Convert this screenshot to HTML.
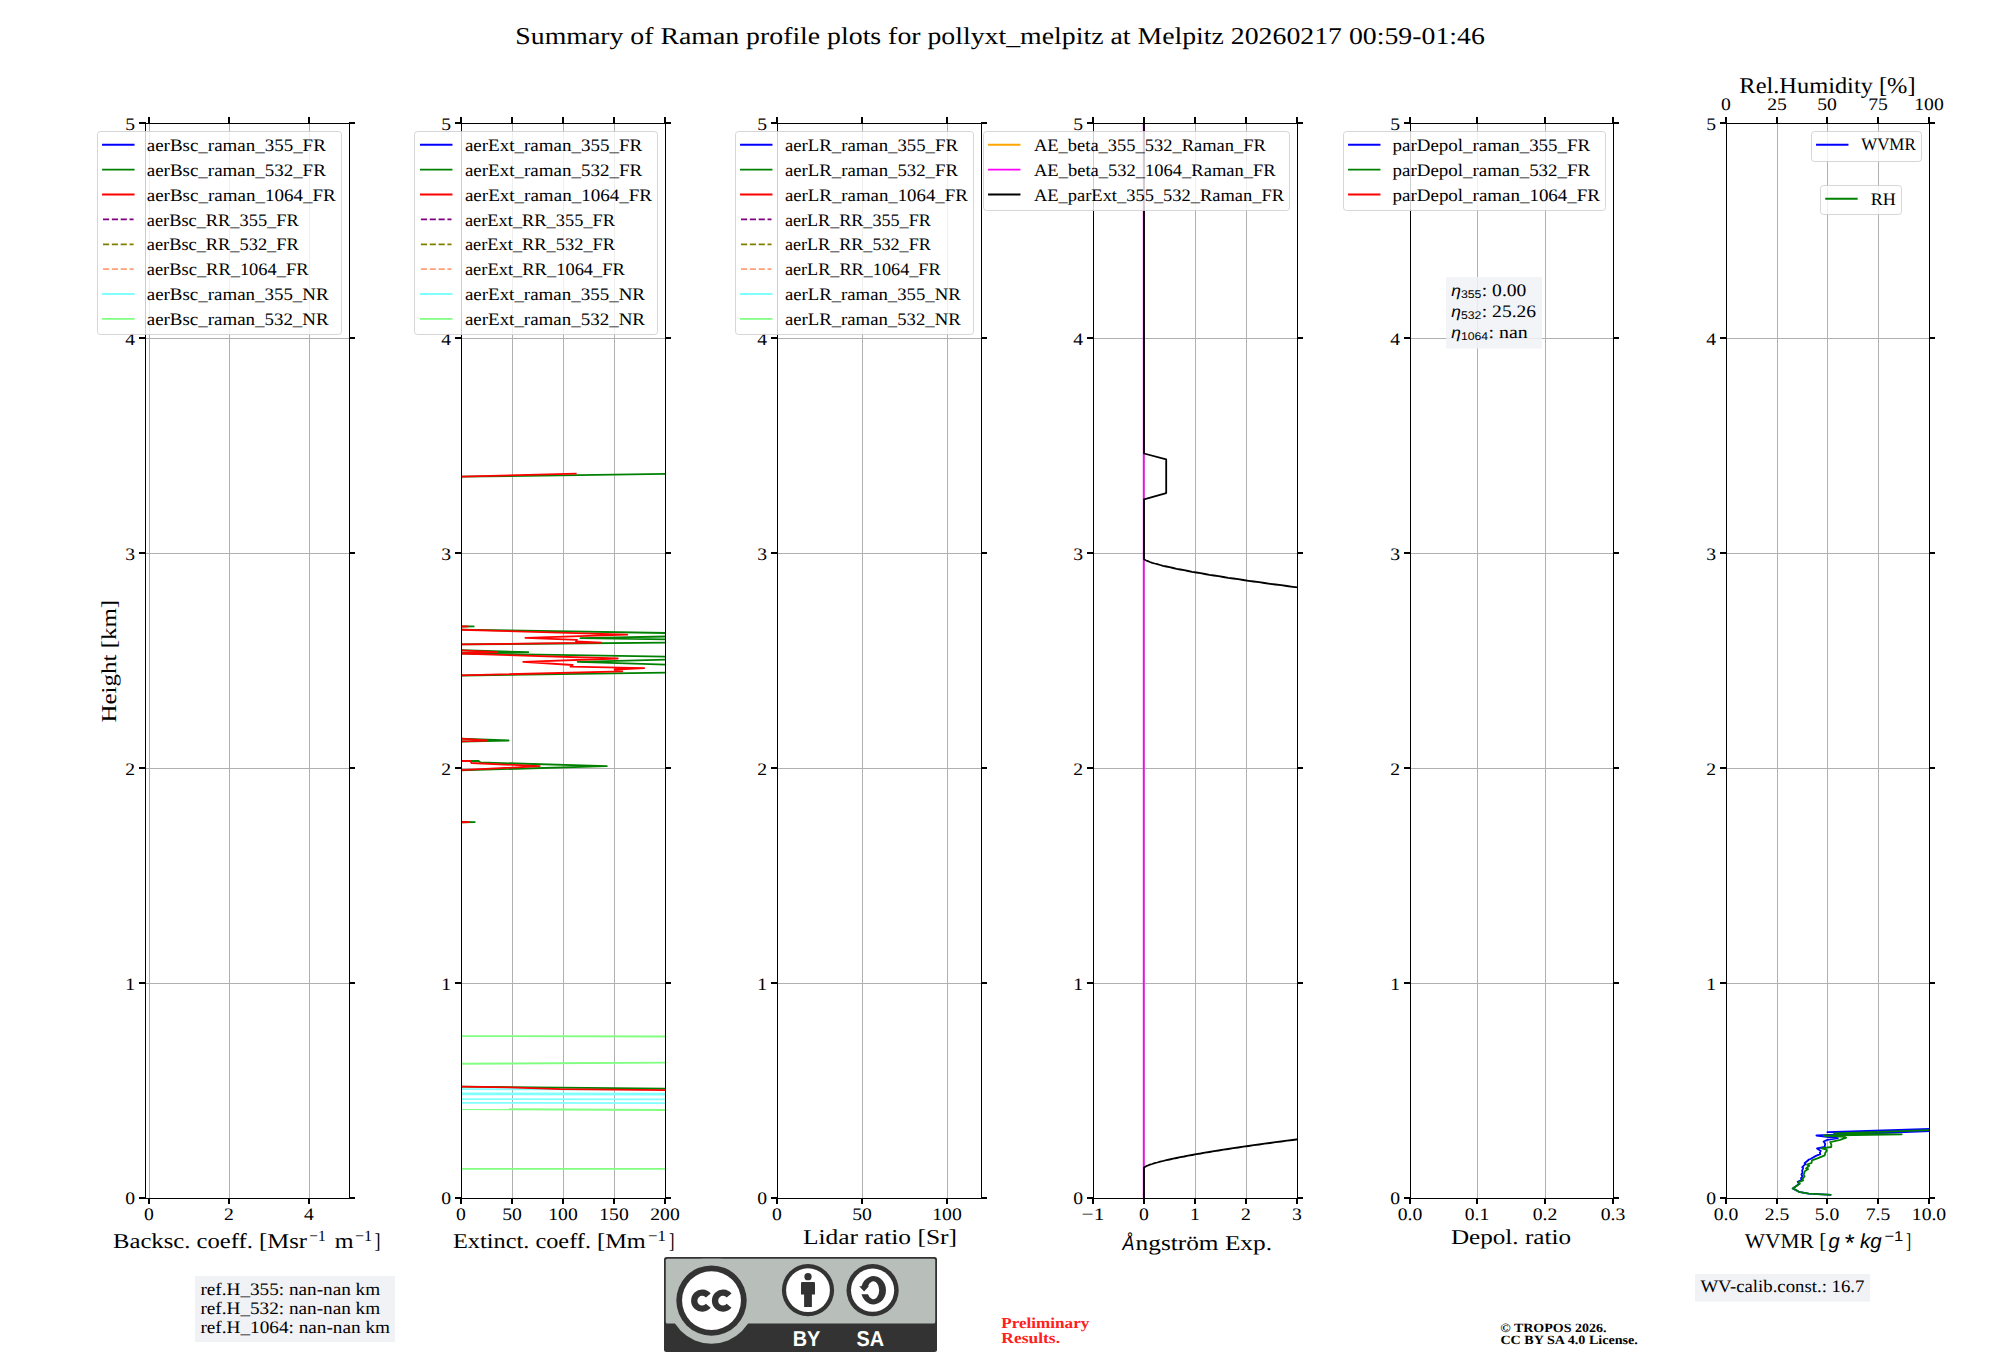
<!DOCTYPE html>
<html><head><meta charset="utf-8"><title>Summary of Raman profile plots</title>
<style>
html,body{margin:0;padding:0;background:#fff;}
svg{display:block;}

</style></head><body>
<svg width="2000" height="1360" viewBox="0 0 2000 1360" font-family="Liberation Serif" text-rendering="geometricPrecision">
<rect width="2000" height="1360" fill="#fff"/>
<defs>
<clipPath id="c0"><rect x="145" y="123" width="205" height="1076"/></clipPath>
<clipPath id="c1"><rect x="461" y="123" width="205" height="1076"/></clipPath>
<clipPath id="c2"><rect x="777" y="123" width="205" height="1076"/></clipPath>
<clipPath id="c3"><rect x="1093" y="123" width="205" height="1076"/></clipPath>
<clipPath id="c4"><rect x="1410" y="123" width="204" height="1076"/></clipPath>
<clipPath id="c5"><rect x="1726" y="123" width="204" height="1076"/></clipPath>
</defs>
<text x="515.30" y="44.20" font-size="24.22" textLength="969.51" lengthAdjust="spacingAndGlyphs">Summary of Raman profile plots for pollyxt_melpitz at Melpitz 20260217 00:59-01:46</text>
<path d="M149.5 123V1199M229.5 123V1199M309.5 123V1199M145 983.5H350M145 768.5H350M145 553.5H350M145 338.5H350M512.5 123V1199M563.5 123V1199M614.5 123V1199M461 983.5H666M461 768.5H666M461 553.5H666M461 338.5H666M862.5 123V1199M947.5 123V1199M777 983.5H982M777 768.5H982M777 553.5H982M777 338.5H982M1144.5 123V1199M1195.5 123V1199M1246.5 123V1199M1093 983.5H1298M1093 768.5H1298M1093 553.5H1298M1093 338.5H1298M1477.5 123V1199M1545.5 123V1199M1410 983.5H1614M1410 768.5H1614M1410 553.5H1614M1410 338.5H1614M1777.5 123V1199M1827.5 123V1199M1878.5 123V1199M1726 983.5H1930M1726 768.5H1930M1726 553.5H1930M1726 338.5H1930" stroke="#b0b0b0" stroke-width="1" fill="none"/>
<path d="M455.0 1036.1 L671.0 1036.5" stroke="#80ff80" stroke-width="1.8" fill="none" stroke-linejoin="round" stroke-linecap="butt" clip-path="url(#c1)"/>
<path d="M455.0 1063.8 L671.0 1062.6" stroke="#80ff80" stroke-width="1.8" fill="none" stroke-linejoin="round" stroke-linecap="butt" clip-path="url(#c1)"/>
<path d="M455.0 1109.0 L671.0 1110.0" stroke="#80ff80" stroke-width="1.8" fill="none" stroke-linejoin="round" stroke-linecap="butt" clip-path="url(#c1)"/>
<path d="M455.0 1168.8 L671.0 1168.8" stroke="#80ff80" stroke-width="1.8" fill="none" stroke-linejoin="round" stroke-linecap="butt" clip-path="url(#c1)"/>
<path d="M455.0 1089.2 L671.0 1089.4" stroke="#80ffff" stroke-width="1.8" fill="none" stroke-linejoin="round" stroke-linecap="butt" clip-path="url(#c1)"/>
<path d="M455.0 1093.4 L671.0 1093.6" stroke="#80ffff" stroke-width="1.8" fill="none" stroke-linejoin="round" stroke-linecap="butt" clip-path="url(#c1)"/>
<path d="M455.0 1094.4 L671.0 1094.6" stroke="#80ffff" stroke-width="1.8" fill="none" stroke-linejoin="round" stroke-linecap="butt" clip-path="url(#c1)"/>
<path d="M455.0 1099.1 L671.0 1099.3" stroke="#80ffff" stroke-width="1.8" fill="none" stroke-linejoin="round" stroke-linecap="butt" clip-path="url(#c1)"/>
<path d="M455.0 1102.9 L671.0 1103.1" stroke="#80ffff" stroke-width="1.8" fill="none" stroke-linejoin="round" stroke-linecap="butt" clip-path="url(#c1)"/>
<path d="M667.0 473.9 L455.0 476.8" stroke="#008000" stroke-width="1.8" fill="none" stroke-linejoin="round" stroke-linecap="butt" clip-path="url(#c1)"/>
<path d="M455.0 626.3 L473.7 626.4 L455.0 626.7" stroke="#008000" stroke-width="1.8" fill="none" stroke-linejoin="round" stroke-linecap="butt" clip-path="url(#c1)"/>
<path d="M455.0 629.6 L667.0 633.0" stroke="#008000" stroke-width="1.8" fill="none" stroke-linejoin="round" stroke-linecap="butt" clip-path="url(#c1)"/>
<path d="M667.0 636.5 L580.4 638.2 L667.0 639.3" stroke="#008000" stroke-width="1.8" fill="none" stroke-linejoin="round" stroke-linecap="butt" clip-path="url(#c1)"/>
<path d="M667.0 642.6 L455.0 644.5" stroke="#008000" stroke-width="1.8" fill="none" stroke-linejoin="round" stroke-linecap="butt" clip-path="url(#c1)"/>
<path d="M455.0 650.1 L528.2 652.2 L455.0 653.3" stroke="#008000" stroke-width="1.8" fill="none" stroke-linejoin="round" stroke-linecap="butt" clip-path="url(#c1)"/>
<path d="M455.0 653.4 L667.0 656.6" stroke="#008000" stroke-width="1.8" fill="none" stroke-linejoin="round" stroke-linecap="butt" clip-path="url(#c1)"/>
<path d="M667.0 659.6 L577.7 661.8 L667.0 664.7" stroke="#008000" stroke-width="1.8" fill="none" stroke-linejoin="round" stroke-linecap="butt" clip-path="url(#c1)"/>
<path d="M667.0 672.7 L455.0 675.6" stroke="#008000" stroke-width="1.8" fill="none" stroke-linejoin="round" stroke-linecap="butt" clip-path="url(#c1)"/>
<path d="M455.0 738.3 L508.6 740.5 L455.0 741.6" stroke="#008000" stroke-width="1.8" fill="none" stroke-linejoin="round" stroke-linecap="butt" clip-path="url(#c1)"/>
<path d="M455.0 761.0 L478.6 761.0 L480.5 762.4 L606.8 766.2 L455.0 770.5" stroke="#008000" stroke-width="1.8" fill="none" stroke-linejoin="round" stroke-linecap="butt" clip-path="url(#c1)"/>
<path d="M455.0 821.8 L474.8 822.1 L455.0 822.4" stroke="#008000" stroke-width="1.8" fill="none" stroke-linejoin="round" stroke-linecap="butt" clip-path="url(#c1)"/>
<path d="M455.0 1086.6 L667.0 1088.7" stroke="#008000" stroke-width="1.8" fill="none" stroke-linejoin="round" stroke-linecap="butt" clip-path="url(#c1)"/>
<path d="M455.0 476.8 L576.6 473.7" stroke="#ff0000" stroke-width="1.8" fill="none" stroke-linejoin="round" stroke-linecap="butt" clip-path="url(#c1)"/>
<path d="M455.0 626.3 L467.7 626.4 L455.0 626.7" stroke="#ff0000" stroke-width="1.8" fill="none" stroke-linejoin="round" stroke-linecap="butt" clip-path="url(#c1)"/>
<path d="M455.0 629.6 L627.2 634.6 L525.4 637.8 L577.1 639.8 L576.0 641.5 L601.3 642.6 L455.0 644.5" stroke="#ff0000" stroke-width="1.8" fill="none" stroke-linejoin="round" stroke-linecap="butt" clip-path="url(#c1)"/>
<path d="M455.0 650.1 L497.4 652.2 L455.0 653.3" stroke="#ff0000" stroke-width="1.8" fill="none" stroke-linejoin="round" stroke-linecap="butt" clip-path="url(#c1)"/>
<path d="M455.0 653.4 L617.8 658.5 L523.2 661.8 L572.7 665.0 L570.5 666.7 L644.2 668.1 L614.5 669.5 L622.2 671.3 L455.0 675.6" stroke="#ff0000" stroke-width="1.8" fill="none" stroke-linejoin="round" stroke-linecap="butt" clip-path="url(#c1)"/>
<path d="M455.0 738.3 L486.9 740.5 L455.0 741.6" stroke="#ff0000" stroke-width="1.8" fill="none" stroke-linejoin="round" stroke-linecap="butt" clip-path="url(#c1)"/>
<path d="M455.0 761.0 L470.4 761.0 L471.5 763.0 L539.7 766.2 L455.0 770.5" stroke="#ff0000" stroke-width="1.8" fill="none" stroke-linejoin="round" stroke-linecap="butt" clip-path="url(#c1)"/>
<path d="M455.0 821.8 L468.8 822.1 L455.0 822.4" stroke="#ff0000" stroke-width="1.8" fill="none" stroke-linejoin="round" stroke-linecap="butt" clip-path="url(#c1)"/>
<path d="M455.0 1086.6 L510.0 1087.4 L560.0 1089.2 L667.0 1090.2" stroke="#ff0000" stroke-width="1.8" fill="none" stroke-linejoin="round" stroke-linecap="butt" clip-path="url(#c1)"/>
<path d="M1143.7 121.0 L1143.7 1200.0" stroke="#ff00ff" stroke-width="1.8" fill="none" stroke-linejoin="round" stroke-linecap="butt" clip-path="url(#c3)"/>
<path d="M1144.0 121.0 L1144.0 453.5 L1166.2 459.4 L1166.2 493.1 L1144.0 499.4 L1144.0 559.0 L1144.8 559.8 L1146.2 560.5 L1147.9 561.2 L1149.9 562.0 L1152.2 562.8 L1154.6 563.5 L1157.3 564.2 L1160.1 565.0 L1163.1 565.8 L1166.3 566.5 L1169.6 567.2 L1173.1 568.0 L1176.6 568.8 L1180.3 569.5 L1184.2 570.2 L1188.1 571.0 L1192.1 571.8 L1196.3 572.5 L1200.6 573.2 L1204.9 574.0 L1209.4 574.8 L1214.0 575.5 L1218.6 576.2 L1223.4 577.0 L1228.2 577.8 L1233.2 578.5 L1238.2 579.2 L1243.3 580.0 L1248.5 580.8 L1253.7 581.5 L1259.1 582.2 L1264.5 583.0 L1270.0 583.8 L1275.5 584.5 L1281.2 585.2 L1286.9 586.0 L1292.7 586.8 L1298.6 587.5 L1304.5 588.2 L1310.5 589.0" stroke="#000000" stroke-width="1.8" fill="none" stroke-linejoin="round" stroke-linecap="butt" clip-path="url(#c3)"/>
<path d="M1310.5 1137.7 L1304.5 1138.5 L1298.6 1139.2 L1292.7 1140.0 L1286.9 1140.7 L1281.2 1141.5 L1275.5 1142.2 L1270.0 1143.0 L1264.5 1143.7 L1259.1 1144.5 L1253.7 1145.2 L1248.5 1146.0 L1243.3 1146.7 L1238.2 1147.5 L1233.2 1148.2 L1228.2 1149.0 L1223.4 1149.7 L1218.6 1150.5 L1214.0 1151.2 L1209.4 1152.0 L1204.9 1152.7 L1200.6 1153.5 L1196.3 1154.2 L1192.1 1155.0 L1188.1 1155.7 L1184.2 1156.5 L1180.3 1157.2 L1176.6 1158.0 L1173.1 1158.7 L1169.6 1159.5 L1166.3 1160.2 L1163.1 1161.0 L1160.1 1161.7 L1157.3 1162.5 L1154.6 1163.2 L1152.2 1164.0 L1149.9 1164.7 L1147.9 1165.5 L1146.2 1166.2 L1144.8 1167.0 L1144.0 1167.7 L1144.0 1200.0" stroke="#000000" stroke-width="1.8" fill="none" stroke-linejoin="round" stroke-linecap="butt" clip-path="url(#c3)"/>
<path d="M1831.3 1194.9 L1808.7 1193.6 L1798.8 1191.8 L1796.9 1190.6 L1792.7 1188.4 L1797.0 1185.6 L1799.0 1183.4 L1797.7 1181.8 L1801.5 1180.1 L1801.0 1178.2 L1802.6 1176.5 L1801.4 1174.5 L1802.6 1172.6 L1802.1 1170.8 L1803.2 1168.0 L1802.2 1167.2 L1805.4 1164.1 L1804.6 1163.2 L1808.7 1159.7 L1810.5 1159.0 L1815.9 1155.9 L1820.3 1154.2 L1819.8 1152.6 L1820.8 1150.9 L1817.0 1148.4 L1824.7 1147.0 L1825.2 1143.7 L1823.6 1141.5 L1827.4 1139.9 L1837.9 1138.2 L1826.9 1136.9 L1816.4 1135.5 L1935.0 1131.0 L1827.4 1132.2 L1935.0 1128.8" stroke="#0000ff" stroke-width="1.8" fill="none" stroke-linejoin="round" stroke-linecap="butt" clip-path="url(#c5)"/>
<path d="M1831.3 1194.9 L1808.7 1193.6 L1798.8 1191.8 L1796.9 1190.6 L1792.7 1188.4 L1799.9 1183.7 L1798.8 1182.1 L1803.2 1180.4 L1802.6 1179.0 L1804.6 1176.3 L1803.6 1174.6 L1804.3 1173.0 L1804.8 1171.3 L1808.2 1169.1 L1806.0 1168.5 L1809.3 1165.8 L1807.0 1164.7 L1811.5 1163.0 L1812.0 1160.3 L1818.1 1158.1 L1824.7 1155.3 L1825.2 1153.1 L1826.9 1150.4 L1825.8 1149.3 L1821.4 1148.4 L1831.3 1147.0 L1831.3 1144.3 L1830.2 1142.1 L1840.1 1139.9 L1846.2 1137.7 L1844.5 1136.9 L1823.6 1135.5 L1901.7 1134.3 L1834.0 1133.3 L1935.0 1130.0" stroke="#008000" stroke-width="1.8" fill="none" stroke-linejoin="round" stroke-linecap="butt" clip-path="url(#c5)"/>
<path d="M145.5 123V1199M349.5 123V1199M145 123.5H350M145 1198.5H350M461.5 123V1199M665.5 123V1199M461 123.5H666M461 1198.5H666M777.5 123V1199M981.5 123V1199M777 123.5H982M777 1198.5H982M1093.5 123V1199M1297.5 123V1199M1093 123.5H1298M1093 1198.5H1298M1410.5 123V1199M1613.5 123V1199M1410 123.5H1614M1410 1198.5H1614M1726.5 123V1199M1929.5 123V1199M1726 123.5H1930M1726 1198.5H1930" stroke="#000" stroke-width="1" fill="none"/>
<path d="M148 1198h2v6h-2zM148 117h2v7h-2zM228 1198h2v6h-2zM228 117h2v7h-2zM308 1198h2v6h-2zM308 117h2v7h-2zM139 1197h7v2h-7zM349 1197h6v2h-6zM139 982h7v2h-7zM349 982h6v2h-6zM139 767h7v2h-7zM349 767h6v2h-6zM139 552h7v2h-7zM349 552h6v2h-6zM139 337h7v2h-7zM349 337h6v2h-6zM139 122h7v2h-7zM349 122h6v2h-6zM460 1198h2v6h-2zM460 117h2v7h-2zM511 1198h2v6h-2zM511 117h2v7h-2zM562 1198h2v6h-2zM562 117h2v7h-2zM613 1198h2v6h-2zM613 117h2v7h-2zM664 1198h2v6h-2zM664 117h2v7h-2zM455 1197h7v2h-7zM665 1197h6v2h-6zM455 982h7v2h-7zM665 982h6v2h-6zM455 767h7v2h-7zM665 767h6v2h-6zM455 552h7v2h-7zM665 552h6v2h-6zM455 337h7v2h-7zM665 337h6v2h-6zM455 122h7v2h-7zM665 122h6v2h-6zM776 1198h2v6h-2zM776 117h2v7h-2zM861 1198h2v6h-2zM861 117h2v7h-2zM946 1198h2v6h-2zM946 117h2v7h-2zM771 1197h7v2h-7zM981 1197h6v2h-6zM771 982h7v2h-7zM981 982h6v2h-6zM771 767h7v2h-7zM981 767h6v2h-6zM771 552h7v2h-7zM981 552h6v2h-6zM771 337h7v2h-7zM981 337h6v2h-6zM771 122h7v2h-7zM981 122h6v2h-6zM1092 1198h2v6h-2zM1092 117h2v7h-2zM1143 1198h2v6h-2zM1143 117h2v7h-2zM1194 1198h2v6h-2zM1194 117h2v7h-2zM1245 1198h2v6h-2zM1245 117h2v7h-2zM1296 1198h2v6h-2zM1296 117h2v7h-2zM1087 1197h7v2h-7zM1297 1197h6v2h-6zM1087 982h7v2h-7zM1297 982h6v2h-6zM1087 767h7v2h-7zM1297 767h6v2h-6zM1087 552h7v2h-7zM1297 552h6v2h-6zM1087 337h7v2h-7zM1297 337h6v2h-6zM1087 122h7v2h-7zM1297 122h6v2h-6zM1409 1198h2v6h-2zM1409 117h2v7h-2zM1476 1198h2v6h-2zM1476 117h2v7h-2zM1544 1198h2v6h-2zM1544 117h2v7h-2zM1612 1198h2v6h-2zM1612 117h2v7h-2zM1404 1197h7v2h-7zM1613 1197h6v2h-6zM1404 982h7v2h-7zM1613 982h6v2h-6zM1404 767h7v2h-7zM1613 767h6v2h-6zM1404 552h7v2h-7zM1613 552h6v2h-6zM1404 337h7v2h-7zM1613 337h6v2h-6zM1404 122h7v2h-7zM1613 122h6v2h-6zM1725 1198h2v6h-2zM1725 117h2v7h-2zM1776 1198h2v6h-2zM1776 117h2v7h-2zM1826 1198h2v6h-2zM1826 117h2v7h-2zM1877 1198h2v6h-2zM1877 117h2v7h-2zM1928 1198h2v6h-2zM1928 117h2v7h-2zM1720 1197h7v2h-7zM1929 1197h6v2h-6zM1720 982h7v2h-7zM1929 982h6v2h-6zM1720 767h7v2h-7zM1929 767h6v2h-6zM1720 552h7v2h-7zM1929 552h6v2h-6zM1720 337h7v2h-7zM1929 337h6v2h-6zM1720 122h7v2h-7zM1929 122h6v2h-6z" fill="#000"/>
<text x="144.09" y="1219.50" font-size="17.57" textLength="9.83" lengthAdjust="spacingAndGlyphs">0</text>
<text x="224.09" y="1219.50" font-size="17.57" textLength="9.83" lengthAdjust="spacingAndGlyphs">2</text>
<text x="304.09" y="1219.50" font-size="17.57" textLength="9.83" lengthAdjust="spacingAndGlyphs">4</text>
<text x="125.17" y="1203.90" font-size="17.57" textLength="9.83" lengthAdjust="spacingAndGlyphs">0</text>
<text x="125.17" y="989.80" font-size="17.57" textLength="9.83" lengthAdjust="spacingAndGlyphs">1</text>
<text x="125.17" y="774.80" font-size="17.57" textLength="9.83" lengthAdjust="spacingAndGlyphs">2</text>
<text x="125.17" y="559.80" font-size="17.57" textLength="9.83" lengthAdjust="spacingAndGlyphs">3</text>
<text x="125.17" y="344.80" font-size="17.57" textLength="9.83" lengthAdjust="spacingAndGlyphs">4</text>
<text x="125.17" y="129.80" font-size="17.57" textLength="9.83" lengthAdjust="spacingAndGlyphs">5</text>
<text x="456.09" y="1219.50" font-size="17.57" textLength="9.83" lengthAdjust="spacingAndGlyphs">0</text>
<text x="502.17" y="1219.50" font-size="17.57" textLength="19.66" lengthAdjust="spacingAndGlyphs">50</text>
<text x="548.26" y="1219.50" font-size="17.57" textLength="29.49" lengthAdjust="spacingAndGlyphs">100</text>
<text x="599.26" y="1219.50" font-size="17.57" textLength="29.49" lengthAdjust="spacingAndGlyphs">150</text>
<text x="650.26" y="1219.50" font-size="17.57" textLength="29.49" lengthAdjust="spacingAndGlyphs">200</text>
<text x="441.17" y="1203.90" font-size="17.57" textLength="9.83" lengthAdjust="spacingAndGlyphs">0</text>
<text x="441.17" y="989.80" font-size="17.57" textLength="9.83" lengthAdjust="spacingAndGlyphs">1</text>
<text x="441.17" y="774.80" font-size="17.57" textLength="9.83" lengthAdjust="spacingAndGlyphs">2</text>
<text x="441.17" y="559.80" font-size="17.57" textLength="9.83" lengthAdjust="spacingAndGlyphs">3</text>
<text x="441.17" y="344.80" font-size="17.57" textLength="9.83" lengthAdjust="spacingAndGlyphs">4</text>
<text x="441.17" y="129.80" font-size="17.57" textLength="9.83" lengthAdjust="spacingAndGlyphs">5</text>
<text x="772.09" y="1219.50" font-size="17.57" textLength="9.83" lengthAdjust="spacingAndGlyphs">0</text>
<text x="852.17" y="1219.50" font-size="17.57" textLength="19.66" lengthAdjust="spacingAndGlyphs">50</text>
<text x="932.26" y="1219.50" font-size="17.57" textLength="29.49" lengthAdjust="spacingAndGlyphs">100</text>
<text x="757.17" y="1203.90" font-size="17.57" textLength="9.83" lengthAdjust="spacingAndGlyphs">0</text>
<text x="757.17" y="989.80" font-size="17.57" textLength="9.83" lengthAdjust="spacingAndGlyphs">1</text>
<text x="757.17" y="774.80" font-size="17.57" textLength="9.83" lengthAdjust="spacingAndGlyphs">2</text>
<text x="757.17" y="559.80" font-size="17.57" textLength="9.83" lengthAdjust="spacingAndGlyphs">3</text>
<text x="757.17" y="344.80" font-size="17.57" textLength="9.83" lengthAdjust="spacingAndGlyphs">4</text>
<text x="757.17" y="129.80" font-size="17.57" textLength="9.83" lengthAdjust="spacingAndGlyphs">5</text>
<text x="1081.61" y="1219.50" font-size="17.57" textLength="22.77" lengthAdjust="spacingAndGlyphs">−1</text>
<text x="1139.09" y="1219.50" font-size="17.57" textLength="9.83" lengthAdjust="spacingAndGlyphs">0</text>
<text x="1190.09" y="1219.50" font-size="17.57" textLength="9.83" lengthAdjust="spacingAndGlyphs">1</text>
<text x="1241.09" y="1219.50" font-size="17.57" textLength="9.83" lengthAdjust="spacingAndGlyphs">2</text>
<text x="1292.09" y="1219.50" font-size="17.57" textLength="9.83" lengthAdjust="spacingAndGlyphs">3</text>
<text x="1073.17" y="1203.90" font-size="17.57" textLength="9.83" lengthAdjust="spacingAndGlyphs">0</text>
<text x="1073.17" y="989.80" font-size="17.57" textLength="9.83" lengthAdjust="spacingAndGlyphs">1</text>
<text x="1073.17" y="774.80" font-size="17.57" textLength="9.83" lengthAdjust="spacingAndGlyphs">2</text>
<text x="1073.17" y="559.80" font-size="17.57" textLength="9.83" lengthAdjust="spacingAndGlyphs">3</text>
<text x="1073.17" y="344.80" font-size="17.57" textLength="9.83" lengthAdjust="spacingAndGlyphs">4</text>
<text x="1073.17" y="129.80" font-size="17.57" textLength="9.83" lengthAdjust="spacingAndGlyphs">5</text>
<text x="1397.72" y="1219.50" font-size="17.57" textLength="24.57" lengthAdjust="spacingAndGlyphs">0.0</text>
<text x="1464.72" y="1219.50" font-size="17.57" textLength="24.57" lengthAdjust="spacingAndGlyphs">0.1</text>
<text x="1532.72" y="1219.50" font-size="17.57" textLength="24.57" lengthAdjust="spacingAndGlyphs">0.2</text>
<text x="1600.72" y="1219.50" font-size="17.57" textLength="24.57" lengthAdjust="spacingAndGlyphs">0.3</text>
<text x="1390.17" y="1203.90" font-size="17.57" textLength="9.83" lengthAdjust="spacingAndGlyphs">0</text>
<text x="1390.17" y="989.80" font-size="17.57" textLength="9.83" lengthAdjust="spacingAndGlyphs">1</text>
<text x="1390.17" y="774.80" font-size="17.57" textLength="9.83" lengthAdjust="spacingAndGlyphs">2</text>
<text x="1390.17" y="559.80" font-size="17.57" textLength="9.83" lengthAdjust="spacingAndGlyphs">3</text>
<text x="1390.17" y="344.80" font-size="17.57" textLength="9.83" lengthAdjust="spacingAndGlyphs">4</text>
<text x="1390.17" y="129.80" font-size="17.57" textLength="9.83" lengthAdjust="spacingAndGlyphs">5</text>
<text x="1713.72" y="1219.50" font-size="17.57" textLength="24.57" lengthAdjust="spacingAndGlyphs">0.0</text>
<text x="1764.72" y="1219.50" font-size="17.57" textLength="24.57" lengthAdjust="spacingAndGlyphs">2.5</text>
<text x="1814.72" y="1219.50" font-size="17.57" textLength="24.57" lengthAdjust="spacingAndGlyphs">5.0</text>
<text x="1865.72" y="1219.50" font-size="17.57" textLength="24.57" lengthAdjust="spacingAndGlyphs">7.5</text>
<text x="1911.80" y="1219.50" font-size="17.57" textLength="34.40" lengthAdjust="spacingAndGlyphs">10.0</text>
<text x="1706.17" y="1203.90" font-size="17.57" textLength="9.83" lengthAdjust="spacingAndGlyphs">0</text>
<text x="1706.17" y="989.80" font-size="17.57" textLength="9.83" lengthAdjust="spacingAndGlyphs">1</text>
<text x="1706.17" y="774.80" font-size="17.57" textLength="9.83" lengthAdjust="spacingAndGlyphs">2</text>
<text x="1706.17" y="559.80" font-size="17.57" textLength="9.83" lengthAdjust="spacingAndGlyphs">3</text>
<text x="1706.17" y="344.80" font-size="17.57" textLength="9.83" lengthAdjust="spacingAndGlyphs">4</text>
<text x="1706.17" y="129.80" font-size="17.57" textLength="9.83" lengthAdjust="spacingAndGlyphs">5</text>
<text x="1721.09" y="109.70" font-size="17.57" textLength="9.83" lengthAdjust="spacingAndGlyphs">0</text>
<text x="1767.17" y="109.70" font-size="17.57" textLength="19.66" lengthAdjust="spacingAndGlyphs">25</text>
<text x="1817.17" y="109.70" font-size="17.57" textLength="19.66" lengthAdjust="spacingAndGlyphs">50</text>
<text x="1868.17" y="109.70" font-size="17.57" textLength="19.66" lengthAdjust="spacingAndGlyphs">75</text>
<text x="1914.26" y="109.70" font-size="17.57" textLength="29.49" lengthAdjust="spacingAndGlyphs">100</text>
<text x="1739.38" y="93.00" font-size="22.60" textLength="176.15" lengthAdjust="spacingAndGlyphs">Rel.Humidity [%]</text>
<g transform="translate(116.1 722.6) rotate(-90)"><text x="0.00" y="0.00" font-size="21.19" textLength="122.80" lengthAdjust="spacingAndGlyphs">Height [km]</text></g>
<text x="113.00" y="1247.70" font-size="21.19" textLength="193.98" lengthAdjust="spacingAndGlyphs">Backsc. coeff. [Msr</text>
<text x="309.20" y="1240.70" font-size="15.65" textLength="16.50" lengthAdjust="spacingAndGlyphs">−1</text>
<text x="334.70" y="1247.70" font-size="21.19" textLength="18.80" lengthAdjust="spacingAndGlyphs">m</text>
<text x="355.00" y="1240.70" font-size="15.65" textLength="17.20" lengthAdjust="spacingAndGlyphs">−1</text>
<text x="374.50" y="1247.70" font-size="21.19" textLength="6.00" lengthAdjust="spacingAndGlyphs">]</text>
<text x="453.00" y="1247.80" font-size="21.19" textLength="192.70" lengthAdjust="spacingAndGlyphs">Extinct. coeff. [Mm</text>
<text x="648.00" y="1240.80" font-size="15.65" textLength="18.00" lengthAdjust="spacingAndGlyphs">−1</text>
<text x="669.00" y="1247.80" font-size="21.19" textLength="5.50" lengthAdjust="spacingAndGlyphs">]</text>
<text x="803.00" y="1244.00" font-size="21.19" textLength="154.01" lengthAdjust="spacingAndGlyphs">Lidar ratio [Sr]</text>
<text x="1122.44" y="1249.60" font-size="20.41" textLength="11.96" lengthAdjust="spacingAndGlyphs" font-family="Liberation Sans" font-style="italic">Å</text>
<text x="1135.60" y="1249.60" font-size="21.19" textLength="136.41" lengthAdjust="spacingAndGlyphs">ngström Exp.</text>
<text x="1450.90" y="1243.80" font-size="21.19" textLength="120.11" lengthAdjust="spacingAndGlyphs">Depol. ratio</text>
<text x="1744.70" y="1248.00" font-size="21.19" textLength="81.60" lengthAdjust="spacingAndGlyphs">WVMR [</text>
<text x="1828.40" y="1248.00" font-size="20.41" textLength="11.20" lengthAdjust="spacingAndGlyphs" font-family="Liberation Sans" font-style="italic">g</text>
<text x="1844.8" y="1251.2" font-family="Liberation Sans" font-size="24" textLength="10.0" lengthAdjust="spacingAndGlyphs" stroke="#000" stroke-width="0.0">*</text>
<text x="1859.90" y="1248.00" font-size="20.41" textLength="21.70" lengthAdjust="spacingAndGlyphs" font-family="Liberation Sans" font-style="italic">kg</text>
<text x="1884.40" y="1241.00" font-size="14.29" textLength="18.90" lengthAdjust="spacingAndGlyphs" font-family="Liberation Sans">−1</text>
<text x="1906.10" y="1248.00" font-size="21.19" textLength="5.20" lengthAdjust="spacingAndGlyphs">]</text>
<rect x="97.5" y="131.5" width="244.0" height="203.0" rx="3" ry="3" fill="#fff" fill-opacity="0.8" stroke="#ccc" stroke-opacity="0.8" stroke-width="1"/><path d="M103.0 144.80H133.6" stroke="#0000ff" stroke-width="1.9" stroke-linecap="square"/><text x="146.75" y="150.90" font-size="17.57" textLength="179.08" lengthAdjust="spacingAndGlyphs">aerBsc_raman_355_FR</text><path d="M103.0 169.67H133.6" stroke="#008000" stroke-width="1.9" stroke-linecap="square"/><text x="146.75" y="175.90" font-size="17.57" textLength="179.08" lengthAdjust="spacingAndGlyphs">aerBsc_raman_532_FR</text><path d="M103.0 194.54H133.6" stroke="#ff0000" stroke-width="1.9" stroke-linecap="square"/><text x="146.75" y="200.90" font-size="17.57" textLength="188.91" lengthAdjust="spacingAndGlyphs">aerBsc_raman_1064_FR</text><path d="M103.0 219.41H133.6" stroke="#800080" stroke-width="1.8" stroke-dasharray="6.17 2.67"/><text x="146.75" y="225.90" font-size="17.57" textLength="151.94" lengthAdjust="spacingAndGlyphs">aerBsc_RR_355_FR</text><path d="M103.0 244.28H133.6" stroke="#808000" stroke-width="1.8" stroke-dasharray="6.17 2.67"/><text x="146.75" y="249.90" font-size="17.57" textLength="151.94" lengthAdjust="spacingAndGlyphs">aerBsc_RR_532_FR</text><path d="M103.0 269.15H133.6" stroke="#ffa07a" stroke-width="1.8" stroke-dasharray="6.17 2.67"/><text x="146.75" y="274.90" font-size="17.57" textLength="161.77" lengthAdjust="spacingAndGlyphs">aerBsc_RR_1064_FR</text><path d="M103.0 294.02H133.6" stroke="#80ffff" stroke-width="1.9" stroke-linecap="square"/><text x="146.75" y="299.90" font-size="17.57" textLength="181.88" lengthAdjust="spacingAndGlyphs">aerBsc_raman_355_NR</text><path d="M103.0 318.89H133.6" stroke="#80ff80" stroke-width="1.9" stroke-linecap="square"/><text x="146.75" y="324.90" font-size="17.57" textLength="181.88" lengthAdjust="spacingAndGlyphs">aerBsc_raman_532_NR</text>
<rect x="414.5" y="131.5" width="243.0" height="203.0" rx="3" ry="3" fill="#fff" fill-opacity="0.8" stroke="#ccc" stroke-opacity="0.8" stroke-width="1"/><path d="M420.9 144.80H451.5" stroke="#0000ff" stroke-width="1.9" stroke-linecap="square"/><text x="464.90" y="150.90" font-size="17.57" textLength="177.34" lengthAdjust="spacingAndGlyphs">aerExt_raman_355_FR</text><path d="M420.9 169.67H451.5" stroke="#008000" stroke-width="1.9" stroke-linecap="square"/><text x="464.90" y="175.90" font-size="17.57" textLength="177.34" lengthAdjust="spacingAndGlyphs">aerExt_raman_532_FR</text><path d="M420.9 194.54H451.5" stroke="#ff0000" stroke-width="1.9" stroke-linecap="square"/><text x="464.90" y="200.90" font-size="17.57" textLength="187.17" lengthAdjust="spacingAndGlyphs">aerExt_raman_1064_FR</text><path d="M420.9 219.41H451.5" stroke="#800080" stroke-width="1.8" stroke-dasharray="6.17 2.67"/><text x="464.90" y="225.90" font-size="17.57" textLength="150.20" lengthAdjust="spacingAndGlyphs">aerExt_RR_355_FR</text><path d="M420.9 244.28H451.5" stroke="#808000" stroke-width="1.8" stroke-dasharray="6.17 2.67"/><text x="464.90" y="249.90" font-size="17.57" textLength="150.20" lengthAdjust="spacingAndGlyphs">aerExt_RR_532_FR</text><path d="M420.9 269.15H451.5" stroke="#ffa07a" stroke-width="1.8" stroke-dasharray="6.17 2.67"/><text x="464.90" y="274.90" font-size="17.57" textLength="160.03" lengthAdjust="spacingAndGlyphs">aerExt_RR_1064_FR</text><path d="M420.9 294.02H451.5" stroke="#80ffff" stroke-width="1.9" stroke-linecap="square"/><text x="464.90" y="299.90" font-size="17.57" textLength="180.14" lengthAdjust="spacingAndGlyphs">aerExt_raman_355_NR</text><path d="M420.9 318.89H451.5" stroke="#80ff80" stroke-width="1.9" stroke-linecap="square"/><text x="464.90" y="324.90" font-size="17.57" textLength="180.14" lengthAdjust="spacingAndGlyphs">aerExt_raman_532_NR</text>
<rect x="735.5" y="131.5" width="238.0" height="203.0" rx="3" ry="3" fill="#fff" fill-opacity="0.8" stroke="#ccc" stroke-opacity="0.8" stroke-width="1"/><path d="M741.0 144.80H771.5" stroke="#0000ff" stroke-width="1.9" stroke-linecap="square"/><text x="784.90" y="150.90" font-size="17.57" textLength="173.04" lengthAdjust="spacingAndGlyphs">aerLR_raman_355_FR</text><path d="M741.0 169.67H771.5" stroke="#008000" stroke-width="1.9" stroke-linecap="square"/><text x="784.90" y="175.90" font-size="17.57" textLength="173.04" lengthAdjust="spacingAndGlyphs">aerLR_raman_532_FR</text><path d="M741.0 194.54H771.5" stroke="#ff0000" stroke-width="1.9" stroke-linecap="square"/><text x="784.90" y="200.90" font-size="17.57" textLength="182.87" lengthAdjust="spacingAndGlyphs">aerLR_raman_1064_FR</text><path d="M741.0 219.41H771.5" stroke="#800080" stroke-width="1.8" stroke-dasharray="6.17 2.67"/><text x="784.90" y="225.90" font-size="17.57" textLength="145.90" lengthAdjust="spacingAndGlyphs">aerLR_RR_355_FR</text><path d="M741.0 244.28H771.5" stroke="#808000" stroke-width="1.8" stroke-dasharray="6.17 2.67"/><text x="784.90" y="249.90" font-size="17.57" textLength="145.90" lengthAdjust="spacingAndGlyphs">aerLR_RR_532_FR</text><path d="M741.0 269.15H771.5" stroke="#ffa07a" stroke-width="1.8" stroke-dasharray="6.17 2.67"/><text x="784.90" y="274.90" font-size="17.57" textLength="155.73" lengthAdjust="spacingAndGlyphs">aerLR_RR_1064_FR</text><path d="M741.0 294.02H771.5" stroke="#80ffff" stroke-width="1.9" stroke-linecap="square"/><text x="784.90" y="299.90" font-size="17.57" textLength="175.84" lengthAdjust="spacingAndGlyphs">aerLR_raman_355_NR</text><path d="M741.0 318.89H771.5" stroke="#80ff80" stroke-width="1.9" stroke-linecap="square"/><text x="784.90" y="324.90" font-size="17.57" textLength="175.84" lengthAdjust="spacingAndGlyphs">aerLR_raman_532_NR</text>
<rect x="983.5" y="131.5" width="306.0" height="79.0" rx="3" ry="3" fill="#fff" fill-opacity="0.8" stroke="#ccc" stroke-opacity="0.8" stroke-width="1"/><path d="M989.0 144.80H1019.5" stroke="#ffa500" stroke-width="1.9" stroke-linecap="square"/><text x="1034.00" y="150.90" font-size="17.57" textLength="231.83" lengthAdjust="spacingAndGlyphs">AE_beta_355_532_Raman_FR</text><path d="M989.0 169.67H1019.5" stroke="#ff00ff" stroke-width="1.9" stroke-linecap="square"/><text x="1034.00" y="175.90" font-size="17.57" textLength="241.66" lengthAdjust="spacingAndGlyphs">AE_beta_532_1064_Raman_FR</text><path d="M989.0 194.54H1019.5" stroke="#000000" stroke-width="1.9" stroke-linecap="square"/><text x="1034.00" y="200.90" font-size="17.57" textLength="250.06" lengthAdjust="spacingAndGlyphs">AE_parExt_355_532_Raman_FR</text>
<rect x="1343.5" y="131.5" width="262.0" height="79.0" rx="3" ry="3" fill="#fff" fill-opacity="0.8" stroke="#ccc" stroke-opacity="0.8" stroke-width="1"/><path d="M1349.0 144.80H1379.5" stroke="#0000ff" stroke-width="1.9" stroke-linecap="square"/><text x="1392.60" y="150.90" font-size="17.57" textLength="197.55" lengthAdjust="spacingAndGlyphs">parDepol_raman_355_FR</text><path d="M1349.0 169.67H1379.5" stroke="#008000" stroke-width="1.9" stroke-linecap="square"/><text x="1392.60" y="175.90" font-size="17.57" textLength="197.55" lengthAdjust="spacingAndGlyphs">parDepol_raman_532_FR</text><path d="M1349.0 194.54H1379.5" stroke="#ff0000" stroke-width="1.9" stroke-linecap="square"/><text x="1392.60" y="200.90" font-size="17.57" textLength="207.38" lengthAdjust="spacingAndGlyphs">parDepol_raman_1064_FR</text>
<rect x="1811.5" y="131.5" width="110.0" height="30.0" rx="3" ry="3" fill="#fff" fill-opacity="0.8" stroke="#ccc" stroke-opacity="0.8" stroke-width="1"/><path d="M1817.0 144.80H1847.5" stroke="#0000ff" stroke-width="1.9" stroke-linecap="square"/><text x="1861.20" y="149.90" font-size="17.57" textLength="54.48" lengthAdjust="spacingAndGlyphs">WVMR</text>
<rect x="1820.5" y="185.5" width="81.0" height="29.0" rx="3" ry="3" fill="#fff" fill-opacity="0.8" stroke="#ccc" stroke-opacity="0.8" stroke-width="1"/><path d="M1826.2 198.80H1856.7" stroke="#008000" stroke-width="1.9" stroke-linecap="square"/><text x="1870.80" y="204.90" font-size="17.57" textLength="25.10" lengthAdjust="spacingAndGlyphs">RH</text>
<rect x="195" y="1276" width="200" height="66" fill="#f1f2f6"/>
<text x="200.40" y="1294.80" font-size="17.57" textLength="179.76" lengthAdjust="spacingAndGlyphs">ref.H_355: nan-nan km</text>
<text x="200.40" y="1314.00" font-size="17.57" textLength="179.76" lengthAdjust="spacingAndGlyphs">ref.H_532: nan-nan km</text>
<text x="200.40" y="1333.20" font-size="17.57" textLength="189.59" lengthAdjust="spacingAndGlyphs">ref.H_1064: nan-nan km</text>
<rect x="1446" y="277" width="96" height="71.6" fill="#f1f2f6" fill-opacity="0.85"/>
<text x="1451.30" y="296.00" font-size="16.04" textLength="9.68" lengthAdjust="spacingAndGlyphs" font-family="Liberation Sans" font-style="italic">η</text>
<text x="1460.98" y="298.20" font-size="11.23" textLength="20.42" lengthAdjust="spacingAndGlyphs" font-family="Liberation Sans">355</text>
<text x="1481.80" y="296.00" font-size="17.57" textLength="44.51" lengthAdjust="spacingAndGlyphs">: 0.00</text>
<text x="1451.30" y="316.80" font-size="16.04" textLength="9.68" lengthAdjust="spacingAndGlyphs" font-family="Liberation Sans" font-style="italic">η</text>
<text x="1460.98" y="319.00" font-size="11.23" textLength="20.42" lengthAdjust="spacingAndGlyphs" font-family="Liberation Sans">532</text>
<text x="1481.80" y="316.80" font-size="17.57" textLength="54.34" lengthAdjust="spacingAndGlyphs">: 25.26</text>
<text x="1451.30" y="337.60" font-size="16.04" textLength="9.68" lengthAdjust="spacingAndGlyphs" font-family="Liberation Sans" font-style="italic">η</text>
<text x="1460.98" y="339.80" font-size="11.23" textLength="27.22" lengthAdjust="spacingAndGlyphs" font-family="Liberation Sans">1064</text>
<text x="1488.61" y="337.60" font-size="17.57" textLength="39.22" lengthAdjust="spacingAndGlyphs">: nan</text>
<rect x="1695" y="1274" width="175" height="27.6" fill="#f1f2f6"/>
<text x="1700.40" y="1292.10" font-size="17.57" textLength="164.01" lengthAdjust="spacingAndGlyphs">WV-calib.const.: 16.7</text>
<text x="1001.30" y="1327.80" font-size="15.18" textLength="88.02" lengthAdjust="spacingAndGlyphs" font-weight="bold" fill="#ff2020">Preliminary</text>
<text x="1001.30" y="1342.80" font-size="15.18" textLength="58.70" lengthAdjust="spacingAndGlyphs" font-weight="bold" fill="#ff2020">Results.</text>
<text x="1500.20" y="1332.00" font-size="12.65" textLength="106.20" lengthAdjust="spacingAndGlyphs" font-weight="bold">© TROPOS 2026.</text>
<text x="1500.40" y="1343.80" font-size="12.65" textLength="137.52" lengthAdjust="spacingAndGlyphs" font-weight="bold">CC BY SA 4.0 License.</text>
<clipPath id="ccclip"><rect x="665.8" y="1258.8" width="269.4" height="91.5"/></clipPath>
<rect x="664" y="1257" width="273" height="95" rx="2.5" fill="#333333"/>
<rect x="665.8" y="1258.8" width="269.4" height="64.6" rx="1.5" fill="#b8bfba"/>
<circle cx="711.5" cy="1300.5" r="43.2" fill="#b8bfba" clip-path="url(#ccclip)"/>
<circle cx="711.5" cy="1300.6" r="35.2" fill="#333333"/>
<circle cx="711.5" cy="1300.6" r="29.45" fill="#fff"/>
<path d="M708.29 1295.54A7.95 7.95 0 1 0 708.29 1305.76" stroke="#333333" stroke-width="6.3" fill="none"/>
<path d="M729.09 1295.54A7.95 7.95 0 1 0 729.09 1305.76" stroke="#333333" stroke-width="6.3" fill="none"/>
<circle cx="808" cy="1290.2" r="26.1" fill="#333333"/>
<circle cx="808" cy="1290.2" r="21.9" fill="#fff"/>
<circle cx="808" cy="1276.7" r="3.65" fill="#333333"/>
<path d="M801 1283.2q0-1.2 1.2-1.2h11.6q1.2 0 1.2 1.2v11.3h-3.1v12.4h-7.8v-12.4h-3.1z" fill="#333333"/>
<circle cx="872.6" cy="1290.2" r="26.1" fill="#333333"/>
<circle cx="872.6" cy="1290.2" r="21.6" fill="#fff"/>
<path d="M861.5 1294.3 A12.5 14.2 0 1 0 861.5 1286.3 L859.2 1286.3 L864.1 1291.4 L868.9 1286.3 L868.0 1286.3 A5.9 9 0 1 1 868.0 1294.3 Z" fill="#333333"/>
<text x="792.70" y="1346.00" font-size="21.50" textLength="27.60" lengthAdjust="spacingAndGlyphs" font-family="Liberation Sans" font-weight="bold" fill="#fff">BY</text>
<text x="856.50" y="1346.00" font-size="21.50" textLength="27.60" lengthAdjust="spacingAndGlyphs" font-family="Liberation Sans" font-weight="bold" fill="#fff">SA</text>
</svg>
</body></html>
